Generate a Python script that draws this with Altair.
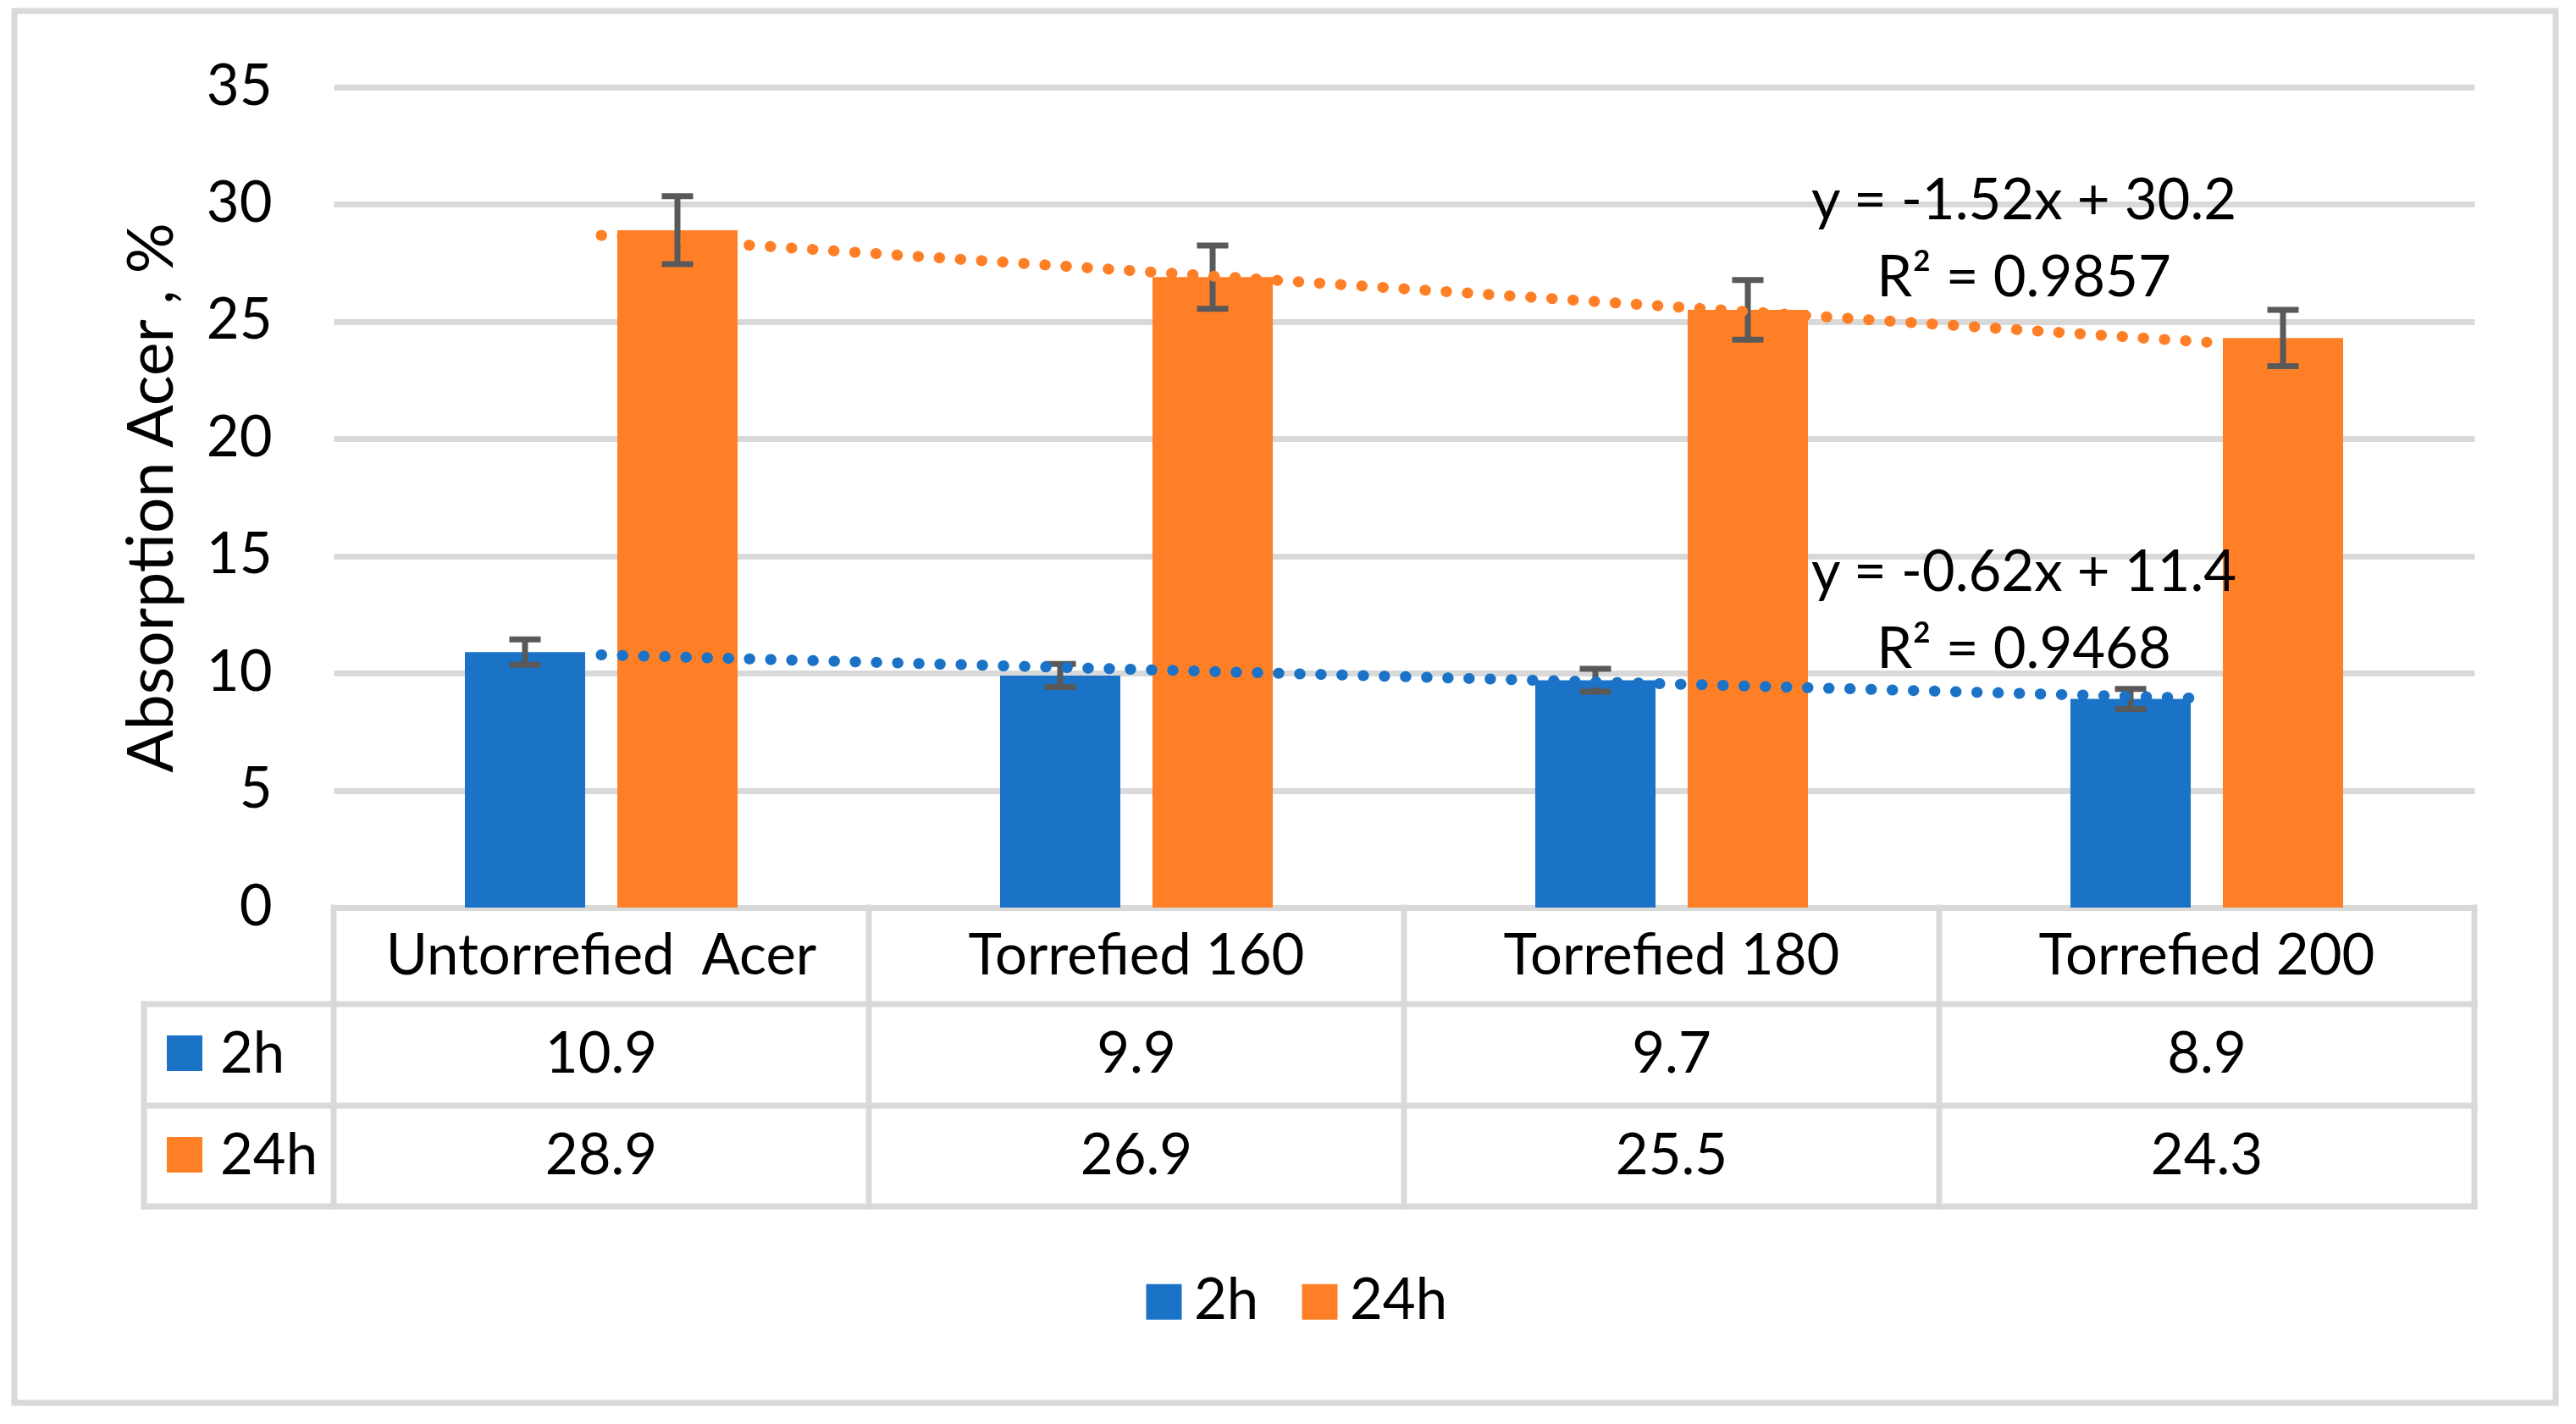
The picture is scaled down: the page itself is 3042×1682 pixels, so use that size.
import altair as alt
import pandas as pd

# ---------------- data ----------------
categories = ["Untorrefied\u00a0 Acer", "Torrefied 160", "Torrefied 180", "Torrefied 200"]
series = ["2h", "24h"]
values_2h = [10.9, 9.9, 9.7, 8.9]
values_24h = [28.9, 26.9, 25.5, 24.3]
err_2h = [0.54, 0.49, 0.49, 0.43]
err_24h = [1.45, 1.35, 1.27, 1.2]
y_ticks = [0, 5, 10, 15, 20, 25, 30, 35]
eq_24h = ["y = -1.52x + 30.2", "R\u00b2 = 0.9857"]
eq_2h = ["y = -0.62x + 11.4", "R\u00b2 = 0.9468"]
colors = ["#1B73C8", "#FF7F27"]
y_title = "Absorption Acer , %"

# ---------------- style ----------------
FONT = "Lato"
FS = 67
GRID = "#D9D9D9"
ERR = "#595959"
W, H = 2528, 969

records = []
for s, vals, errs in zip(series, [values_2h, values_24h], [err_2h, err_24h]):
    for i, c in enumerate(categories):
        records.append(dict(category=c, idx=i + 1, series=s, value=vals[i], err=errs[i]))
df = pd.DataFrame(records)
one = pd.DataFrame({"k": [0]})
cat_df = pd.DataFrame({"idx": list(range(1, len(categories) + 1)), "category": categories})

x_scale = alt.Scale(domain=categories, paddingInner=0, paddingOuter=0)
x_axis = alt.Axis(title=None, ticks=False, tickSize=0, domain=True, domainColor=GRID,
                  domainWidth=7, labelFont=FONT, labelFontSize=FS, labelColor="black",
                  labelPadding=78, labelBaseline="alphabetic", labelAngle=0, labelLimit=0,
                  labelOverlap=False, grid=False)


def X(**kw):
    return alt.X("category:N", scale=x_scale, axis=x_axis, **kw)


y_scale = alt.Scale(domain=[0, 35], nice=False)
y_axis = alt.Axis(values=y_ticks, title=y_title, grid=True, gridColor=GRID, gridWidth=7,
                  domain=False, ticks=False, tickSize=0, labelFont=FONT, labelFontSize=FS,
                  labelColor="black", labelPadding=73, titleFont=FONT, titleFontSize=75,
                  titleFontWeight="normal", titleColor="black", titleAngle=270,
                  titleX=-191, titleY=H / 2, titleAlign="center", titleBaseline="alphabetic")


def Y(field):
    return alt.Y(field, scale=y_scale, axis=y_axis)


xo = alt.XOffset("series:N", scale=alt.Scale(domain=series, paddingInner=0.211, paddingOuter=0.861))

legend = alt.Legend(title=None, orient="none", legendX=947, legendY=1401, direction="horizontal",
                    symbolType="square", symbolSize=1764, symbolStrokeWidth=0, symbolOpacity=1,
                    labelFont=FONT, labelFontSize=FS, labelColor="black", labelOffset=2,
                    columnPadding=38, padding=0, labelLimit=0)

layers = []

# outer border
layers.append(alt.Chart(one).mark_rect(fill="transparent", stroke=GRID, strokeWidth=7).encode(
    x=alt.value(-377), x2=alt.value(2624), y=alt.value(-90), y2=alt.value(1554)))

# table lines
for yv in [1083, 1203, 1322]:
    layers.append(alt.Chart(one).mark_rule(color=GRID, strokeWidth=7, strokeCap="square").encode(
        x=alt.value(-224), x2=alt.value(W), y=alt.value(yv)))
layers.append(alt.Chart(cat_df).mark_rule(color=GRID, strokeWidth=7, strokeCap="square").encode(
    x=X(bandPosition=0), y=alt.value(H), y2=alt.value(1322)))
layers.append(alt.Chart(one).mark_rule(color=GRID, strokeWidth=7, strokeCap="square").encode(
    x=alt.value(W), y=alt.value(H), y2=alt.value(1322)))
layers.append(alt.Chart(one).mark_rule(color=GRID, strokeWidth=7, strokeCap="square").encode(
    x=alt.value(-224), y=alt.value(1083), y2=alt.value(1322)))

# bars
layers.append(alt.Chart(df).mark_bar().encode(
    x=X(), xOffset=xo, y=Y("value:Q"),
    color=alt.Color("series:N", scale=alt.Scale(domain=series, range=colors), legend=legend)))

# error bars
err_base = alt.Chart(df).transform_calculate(lo="datum.value - datum.err", hi="datum.value + datum.err")
layers.append(err_base.mark_rule(color=ERR, strokeWidth=7).encode(
    x=X(), xOffset=xo, y=Y("lo:Q"), y2="hi:Q"))
layers.append(err_base.transform_fold(["lo", "hi"], as_=["end", "endval"]).mark_tick(
    color=ERR, thickness=7, size=37, opacity=1).encode(x=X(), xOffset=xo, y=Y("endval:Q")))

# data table rows
for s, yb, yc, col in zip(series, [1164, 1284], [1141, 1261], colors):
    layers.append(alt.Chart(df).transform_filter(alt.datum.series == s).mark_text(
        font=FONT, fontSize=FS, color="black", baseline="alphabetic", align="center").encode(
        x=X(), y=alt.value(yb), text=alt.Text("value:Q", format=".1f")))
    lab = alt.Chart(pd.DataFrame({"series": [s]}))
    layers.append(lab.mark_square(size=1764, color=col, opacity=1).encode(
        x=alt.value(-176), y=alt.value(yc)))
    layers.append(lab.mark_text(font=FONT, fontSize=FS, color="black", baseline="alphabetic",
                                align="left").encode(x=alt.value(-134), y=alt.value(yb), text="series:N"))

# trend-line equations
for txt, yb in zip(eq_24h + eq_2h, [156, 247, 595, 686]):
    layers.append(alt.Chart(one).mark_text(text=txt, font=FONT, fontSize=FS, color="black",
                                           baseline="alphabetic", align="center").encode(
        x=alt.value(1996), y=alt.value(yb)))

# linear trend lines (computed by Vega-Lite regression)
for s, col in zip(series, colors):
    layers.append(alt.Chart(df).transform_filter(alt.datum.series == s)
                  .transform_regression("idx", "value")
                  .transform_lookup(lookup="idx", from_=alt.LookupData(data=cat_df, key="idx", fields=["category"]))
                  .mark_line(color=col, strokeWidth=13, strokeDash=[0.5, 24.5], strokeCap="round")
                  .encode(x=X(), y=Y("value:Q")))

chart = alt.layer(*layers).properties(
    width=W, height=H,
    autosize=alt.AutoSizeParams(type="none"),
    padding={"left": 386, "top": 95, "right": 100, "bottom": 595},
    background="white",
).configure(font=FONT).configure_view(strokeWidth=0, stroke="transparent")

chart.save("out.html", embed_options={"renderer": "svg", "actions": False})
